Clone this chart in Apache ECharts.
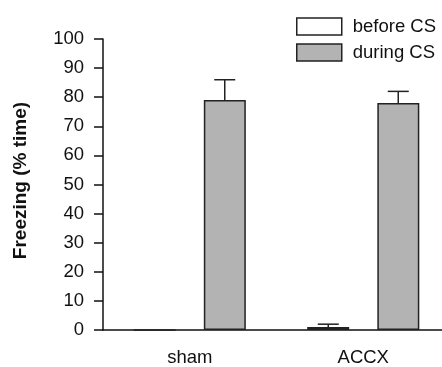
<!DOCTYPE html>
<html>
<head>
<meta charset="utf-8">
<script src="https://cdn.jsdelivr.net/npm/echarts@6/dist/echarts.min.js"></script>
<style>
  html, body { margin: 0; padding: 0; background: #fff; overflow: hidden; }
  #chart { width: 450px; height: 367px; }
</style>
</head>
<body>
<div id="chart"></div>
<script>
// data
var categories = ['sham', 'ACCX'];
var beforeCS = [0, 1];
var beforeErr = [0, 1];
var duringCS = [79, 78];
var duringErr = [7, 4];
var yTicks = [0, 10, 20, 30, 40, 50, 60, 70, 80, 90, 100];

var chart = echarts.init(document.getElementById('chart'));
var font = 'Liberation Sans, Arial, sans-serif';
var BAR_W = 42;
var OFFSET = 35; // half distance between paired bar centres

function errorSeries(vals, errs, side) {
  return {
    type: 'custom',
    silent: true,
    z: 1,
    data: vals.map(function (v, i) { return [i, v, v + errs[i]]; }),
    renderItem: function (params, api) {
      var lo = api.coord([api.value(0), api.value(1)]);
      var hi = api.coord([api.value(0), api.value(2)]);
      if (api.value(2) === api.value(1)) return null;
      var x = lo[0] + side * OFFSET;
      var half = BAR_W / 4;
      var st = { stroke: '#222', lineWidth: 1.5 };
      return {
        type: 'group',
        children: [
          { type: 'line', shape: { x1: x, y1: lo[1], x2: x, y2: hi[1] }, style: st },
          { type: 'line', shape: { x1: x - half, y1: hi[1], x2: x + half, y2: hi[1] }, style: st }
        ]
      };
    }
  };
}

var option = {
  animation: false,
  backgroundColor: '#fff',
  grid: { left: 103, right: 0, top: 39, bottom: 37 },
  legend: {
    orient: 'vertical',
    left: 296,
    top: 17,
    padding: 0,
    itemWidth: 45,
    itemHeight: 17,
    itemGap: 7,
    icon: 'rect',
    data: ['before CS', 'during CS'],
    itemStyle: { borderWidth: 1.5 },
    textStyle: { fontFamily: font, fontSize: 18.5, color: '#111', padding: [0, 0, 0, 6] }
  },
  xAxis: {
    type: 'category',
    data: categories,
    axisLine: { lineStyle: { color: '#111', width: 1.5 } },
    axisTick: { alignWithLabel: true, length: 9, lineStyle: { color: '#111', width: 1.5 } },
    axisLabel: { fontFamily: font, fontSize: 18.5, color: '#111', margin: 18 },
    splitLine: { show: false }
  },
  yAxis: {
    type: 'value',
    min: 0,
    max: 100,
    interval: 10,
    name: 'Freezing (% time)',
    nameLocation: 'middle',
    nameGap: 73,
    nameTextStyle: { fontFamily: font, fontSize: 19, fontWeight: 'bold', color: '#111', padding: [0, 0, 0, 8] },
    axisLine: { show: true, lineStyle: { color: '#111', width: 1.5 } },
    axisTick: { show: true, length: 9, lineStyle: { color: '#111', width: 1.5 } },
    axisLabel: {
      fontFamily: font, fontSize: 18.5, color: '#111', margin: 19,
      formatter: function (v) { return yTicks.indexOf(v) >= 0 ? String(v) : ''; }
    },
    splitLine: { show: false }
  },
  series: [
    {
      name: 'before CS',
      type: 'bar',
      data: beforeCS,
      barWidth: BAR_W,
      barGap: '67%',
      z: 2,
      itemStyle: { color: '#fff', borderColor: '#222', borderWidth: 1.5 }
    },
    {
      name: 'during CS',
      type: 'bar',
      data: duringCS,
      barWidth: BAR_W,
      z: 2,
      itemStyle: { color: '#b3b3b3', borderColor: '#222', borderWidth: 1.5 }
    },
    errorSeries(beforeCS, beforeErr, -1),
    errorSeries(duringCS, duringErr, 1)
  ]
};
chart.setOption(option);
</script>
</body>
</html>
